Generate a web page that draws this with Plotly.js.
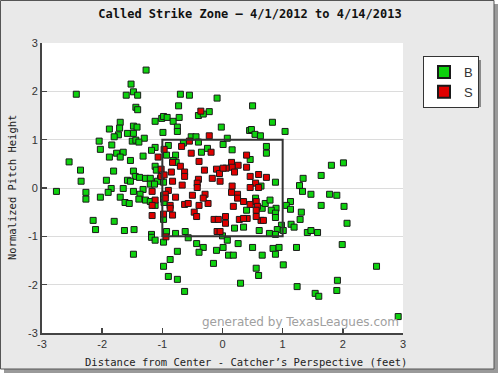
<!DOCTYPE html>
<html>
<head>
<meta charset="utf-8">
<script src="https://cdn.plot.ly/plotly-3.0.1.min.js"></script>
<style>html,body{margin:0;padding:0;background:#fff;}#chart{width:500px;height:375px;}</style>
</head>
<body>
<div id="chart"></div>
<script>
// Balls (B) — horizontal location (ft) and normalized height
const ballX = [-1.27,-2.43,-1.52,-1.48,-1.60,-1.41,-1.44,-1.41,-1.70,-1.88,-1.71,-1.48,-1.42,-1.12,-1.01,-1.58,-1.48,-1.73,-1.80,-0.99,-1.30,
  0.01,-0.70,-0.55,-0.09,-0.73,0.50,-0.22,-0.40,-0.32,-0.98,-0.92,-0.82,-0.72,0.83,-0.75,-0.75,-0.02,0.45,0.48,0.54,0.63,1.04,-0.52,-0.44,0.08,
  -2.05,-2.03,-1.84,-1.50,-1.44,-1.39,-1.12,-1.18,-1.76,-1.65,-1.70,-1.88,-1.53,-1.32,-2.55,-2.36,-2.35,-1.81,-1.93,-1.48,-1.45,-1.38,-1.58,-1.53,-1.28,-1.20,-1.12,-1.10,-1.03,-1.08,-1.20,-1.13,-0.98,
  -2.76,-2.27,-2.27,-2.03,-1.85,-1.90,-1.65,-1.70,-1.48,-1.32,-1.37,-1.39,-1.62,-1.55,-1.28,-1.20,-1.12,-0.98,-0.98,-0.98,-2.15,-1.80,-2.11,-1.63,-1.47,-1.18,
  -1.18,-1.12,-0.98,-1.48,-0.98,
  -0.90,-0.65,-0.40,0.01,0.16,0.73,0.73,-0.35,-0.25,-0.78,-0.93,-0.82,-0.77,0.46,0.88,0.64,0.55,0.66,0.71,0.79,0.89,0.81,0.88,0.88,0.98,0.91,0.40,0.35,0.20,-0.97,-0.93,-0.78,-0.62,0.61,0.78,0.88,0.00,
  -0.57,-0.43,-0.32,-0.39,-0.75,-0.87,-0.90,-0.75,-0.63,-0.15,-0.10,0.01,0.10,0.18,0.26,0.30,0.50,0.66,0.56,0.60,0.84,0.94,0.88,1.01,0.08,
  2.01,1.81,1.34,1.64,1.28,1.33,1.47,1.78,1.90,1.64,2.02,1.13,1.06,1.13,1.31,1.29,1.14,1.19,1.01,1.41,1.47,1.58,2.07,
  1.23,1.99,2.56,1.91,1.24,1.90,1.54,1.60,2.92];
const ballY = [2.44,1.94,2.15,1.99,1.92,1.92,1.67,1.62,1.36,1.22,1.24,1.28,1.26,1.38,1.44,1.13,1.13,1.10,1.06,1.15,1.03,
  3.06,1.94,1.92,1.86,1.70,1.70,1.58,1.50,1.53,1.48,1.46,1.38,1.46,1.36,1.26,1.17,1.26,1.19,1.21,1.11,1.08,1.17,1.06,1.06,1.03,
  0.97,0.80,0.89,0.97,0.99,0.95,0.84,0.78,0.72,0.74,0.64,0.64,0.57,0.66,0.54,0.37,0.14,0.35,0.16,0.35,0.24,0.22,0.16,0.14,0.20,0.20,0.45,0.37,0.20,0.14,0.08,0.08,0.12,
  -0.07,-0.09,-0.23,-0.19,-0.01,-0.09,-0.01,-0.19,-0.07,-0.03,-0.13,-0.23,-0.30,-0.32,-0.25,-0.28,-0.36,-0.15,-0.23,-0.65,-0.67,-0.69,-0.86,-0.88,-0.86,-0.96,
  -1.02,-1.08,-1.12,-1.37,-1.62,
  0.88,0.93,0.95,0.90,0.79,0.86,0.72,0.74,0.82,0.68,0.68,0.57,0.53,0.59,0.12,0.04,-0.21,-0.42,-0.32,-0.25,-0.42,-0.46,-0.52,-0.61,-0.77,-0.86,-0.46,-0.81,-0.83,-0.30,-0.90,-0.94,-0.90,-0.88,-0.94,-0.96,-0.99,
  -1.03,-1.15,-1.23,-1.33,-1.31,-1.48,-1.83,-1.89,-2.14,-1.56,-1.29,-1.23,-1.39,-1.39,-1.15,-1.97,-1.23,-1.39,-1.66,-1.81,-1.25,-1.23,-1.37,-1.59,-1.08,
  0.52,0.47,0.20,0.26,0.05,-0.07,-0.13,-0.13,-0.15,-0.36,-0.38,-0.28,-0.36,-0.44,-0.50,-0.65,-0.75,-0.81,-0.88,-0.92,-0.88,-0.92,-0.73,
  -1.23,-1.17,-1.62,-1.91,-2.04,-2.12,-2.18,-2.24,-2.66];

// Called strikes (S)
const strikeX = [-0.36,-0.22,-0.97,-1.07,-1.02,-1.02,-1.17,-1.12,-1.17,-1.17,-0.98,-0.68,-0.55,-0.19,-0.52,-0.83,-0.70,-0.39,0.40,0.15,0.26,0.16,0.06,0.20,0.40,
  -0.30,-0.10,-0.05,0.01,-0.85,-0.63,-0.63,-0.83,-0.97,-0.40,-0.17,-0.04,0.46,0.60,0.73,0.55,0.60,0.46,-0.42,-0.42,-0.67,0.16,0.15,0.25,0.25,0.35,0.46,0.56,0.58,0.56,
  0.64,0.68,0.56,0.18,0.41,0.28,0.35,0.05,0.05,-0.14,-0.07,-0.24,-0.39,-0.29,-0.32,-0.50,-0.63,-0.57,-0.78,-0.90,-0.95,-0.95,-0.87,-0.87,-0.83,-0.47,-0.43,-0.09,-0.04,-0.94];
const strikeY = [1.59,1.08,0.80,0.64,0.39,0.24,-0.07,-0.25,-0.36,-0.57,-0.54,0.86,0.97,0.74,0.72,0.53,0.45,0.55,0.68,0.53,0.47,0.43,0.41,0.33,0.43,
  0.37,0.39,0.30,0.41,0.33,0.33,0.24,0.14,0.27,0.18,0.20,0.14,0.24,0.28,0.22,0.10,0.01,0.01,0.10,0.01,0.06,0.04,-0.09,-0.13,-0.21,-0.28,-0.34,-0.28,-0.38,-0.46,
  -0.67,-0.67,-0.59,-0.38,-0.63,-0.65,-0.63,-0.59,-0.73,-0.65,-0.65,-0.32,-0.36,-0.13,-0.21,-0.15,-0.34,-0.32,-0.19,-0.05,-0.13,-0.21,-0.36,-0.42,-0.56,-0.50,-0.59,-0.90,-0.90,-1.01];

const seriesNames = ['B', 'S'];
const tickVals = [-3, -2, -1, 0, 1, 2, 3];
const tickText = ['-3', '-2', '-1', '0', '1', '2', '3'];
const zone = {left: -1, right: 1, bottom: -1, top: 1};

// plot area in pixels (for paper-coordinate helpers)
const L = 42, R = 403, T = 43, B = 333;
const px = v => (v - L) / (R - L);
const py = v => (B - v) / (B - T);

const mono = 'DejaVu Sans Mono, Liberation Mono, monospace';
const sans = 'Liberation Sans, Arial, sans-serif';

const traces = [
  {type: 'scatter', mode: 'markers', name: seriesNames[0], x: ballX, y: ballY, cliponaxis: false,
   marker: {symbol: 'square', size: 6, color: '#0ed20e', line: {color: '#1a1a1a', width: 1}}},
  {type: 'scatter', mode: 'markers', name: seriesNames[1], x: strikeX, y: strikeY, cliponaxis: false,
   marker: {symbol: 'square', size: 6, color: '#e00000', line: {color: '#1a1a1a', width: 1}}}
];

const layout = {
  width: 500, height: 375,
  margin: {l: L, r: 500 - R, t: T, b: 375 - B, pad: 0},
  paper_bgcolor: '#ffffff', plot_bgcolor: '#ffffff',
  showlegend: true,
  title: {text: 'Called Strike Zone – 4/1/2012 to 4/14/2013', x: 0.5, xref: 'container', xanchor: 'center',
          y: 1 - 14/375, yref: 'container', yanchor: 'middle',
          font: {family: mono, size: 12, color: '#111', weight: 'bold'}},
  xaxis: {range: [-3, 3], tickvals: tickVals, ticktext: tickText, ticks: 'inside', ticklen: 5, tickwidth: 1.5, tickcolor: '#444',
          showline: true, linecolor: '#444', linewidth: 2, showgrid: false, zeroline: false, mirror: false,
          tickfont: {family: sans, size: 11, color: '#333'}, fixedrange: true},
  yaxis: {range: [-3, 3], tickvals: tickVals, ticktext: tickText, ticks: 'inside', ticklen: 5, tickwidth: 1.5, tickcolor: '#444',
          showline: true, linecolor: '#444', linewidth: 2, showgrid: true, gridcolor: '#dcdcdc', gridwidth: 1, zeroline: false,
          tickfont: {family: sans, size: 11, color: '#333'}, fixedrange: true},
  legend: {x: px(423), y: py(56), xanchor: 'left', yanchor: 'top', bgcolor: '#ffffff', bordercolor: '#333', borderwidth: 1,
           font: {family: sans, size: 13, color: '#333'}, itemwidth: 30, tracegroupgap: 0, itemsizing: 'constant'},
  shapes: [
    // outer frame shadow and frame
    {type: 'rect', xref: 'paper', yref: 'paper', x0: px(4), x1: px(498), y0: py(373), y1: py(4), layer: 'below',
     fillcolor: '#9a9a9a', line: {width: 0}},
    {type: 'rect', xref: 'paper', yref: 'paper', x0: px(0.5), x1: px(494), y0: py(369), y1: py(0.5), layer: 'below',
     fillcolor: '#e9e9e9', line: {color: '#555', width: 1}},
    // plot area background
    {type: 'rect', xref: 'paper', yref: 'paper', x0: 0, x1: 1, y0: 0, y1: 1, layer: 'below',
     fillcolor: '#ffffff', line: {width: 0}},
    // legend shadow
    {type: 'rect', xref: 'paper', yref: 'paper', x0: px(427), x1: px(481), y0: py(107), y1: py(60), layer: 'below',
     fillcolor: '#8a8a8a', line: {width: 0}},
    // strike zone
    {type: 'rect', xref: 'x', yref: 'y', x0: zone.left, x1: zone.right, y0: zone.bottom, y1: zone.top, layer: 'above',
     fillcolor: 'rgba(0,0,0,0)', line: {color: '#333', width: 2}}
  ],
  annotations: [
    {text: 'Distance from Center - Catcher’s Perspective (feet)', xref: 'paper', yref: 'paper', x: px(246), y: py(362),
     xanchor: 'center', yanchor: 'middle', showarrow: false, font: {family: mono, size: 10.5, color: '#222'}},
    {text: 'Normalized Pitch Height', xref: 'paper', yref: 'paper', x: px(12), y: py(188), textangle: -90,
     xanchor: 'center', yanchor: 'middle', showarrow: false, font: {family: mono, size: 10.5, color: '#222'}},
    {text: 'generated by TexasLeagues.com', xref: 'paper', yref: 'paper', x: px(401), y: py(322),
     xanchor: 'right', yanchor: 'middle', showarrow: false, font: {family: 'DejaVu Sans, sans-serif', size: 12, color: '#a0a0a0'}}
  ]
};

Plotly.newPlot('chart', traces, layout, {staticPlot: true, displayModeBar: false});
</script>
</body>
</html>
